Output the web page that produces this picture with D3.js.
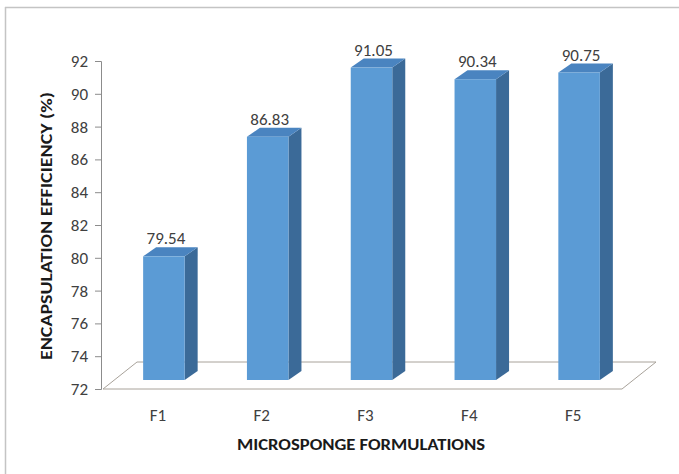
<!DOCTYPE html>
<html>
<head>
<meta charset="utf-8">
<script src="https://cdn.jsdelivr.net/npm/d3@7"></script>
<style>
  html, body { margin: 0; padding: 0; background: #fff; }
  svg { display: block; }
  text { font-family: Carlito, Calibri, Lato, "Liberation Sans", sans-serif; }
</style>
</head>
<body>
<svg id="chart" width="679" height="474"></svg>
<script>
// Encapsulation efficiency of the microsponge formulations
const categories = ["F1", "F2", "F3", "F4", "F5"];
const efficiency = [79.54, 86.83, 91.05, 90.34, 90.75];
const yTicks = [72, 74, 76, 78, 80, 82, 84, 86, 88, 90, 92];

const svg = d3.select("#chart");
const W = 679, H = 474;

// Pseudo-3D projection offsets (floor depth and column depth)
const floorDepth = { dx: 34, dy: -27 };
const barFront = { dx: 12, dy: -9 };
const barDepth = { dx: 13, dy: -9 };

const x = d3.scaleBand().domain(categories).range([103, 622]).padding(0);
const y = d3.scaleLinear().domain([72, 92]).range([389, 61]);

// Outer frame: top and left edges
svg.append("line").attr("x1", 5).attr("x2", W).attr("y1", 7.5).attr("y2", 7.5)
  .attr("stroke", "#c4c4c4").attr("stroke-width", 1.5);
svg.append("line").attr("x1", 5.5).attr("x2", 5.5).attr("y1", 7).attr("y2", H)
  .attr("stroke", "#c4c4c4").attr("stroke-width", 1.5);

// Floor of the plot area
const x0 = x.range()[0], x1 = x.range()[1], yf = y(72);
svg.append("path")
  .attr("d", d3.line()([
    [x0, yf], [x1, yf], [x1 + floorDepth.dx, yf + floorDepth.dy],
    [x0 + floorDepth.dx, yf + floorDepth.dy]
  ]) + "Z")
  .attr("fill", "#fff").attr("stroke", "#a8a29a").attr("stroke-width", 1);

// Value axis
const yAxis = d3.axisLeft(y).tickValues(yTicks).tickSize(6).tickPadding(7).tickFormat(d3.format("d"));
const gy = svg.append("g").attr("transform", "translate(101,0)").call(yAxis);
gy.select(".domain").attr("stroke", "#8c8c8c");
gy.selectAll(".tick line").attr("stroke", "#8c8c8c");
gy.selectAll(".tick text").attr("fill", "#404040").attr("font-size", 17);

// Columns with front, side and top faces
const bw = x.bandwidth() * 0.4;
const bars = svg.append("g").selectAll("g").data(categories).join("g");
bars.each(function (c, i) {
  const g = d3.select(this);
  const left = x(c) + x.bandwidth() / 2 - bw / 2 + barFront.dx - 3;
  const right = left + bw;
  const top = y(efficiency[i]) + barFront.dy;
  const bottom = y(72) + barFront.dy;
  // side face
  g.append("path").attr("d", d3.line()([
    [right, bottom], [right, top], [right + barDepth.dx, top + barDepth.dy],
    [right + barDepth.dx, bottom + barDepth.dy]
  ]) + "Z").attr("fill", "#3b6a98");
  // top face
  g.append("path").attr("d", d3.line()([
    [left, top], [right, top], [right + barDepth.dx, top + barDepth.dy],
    [left + barDepth.dx, top + barDepth.dy]
  ]) + "Z").attr("fill", "#4a84c0");
  // front face
  g.append("rect").attr("x", left).attr("y", top).attr("width", bw).attr("height", bottom - top)
    .attr("fill", "#5b9bd5");
  // value label
  g.append("text").attr("x", (left + right) / 2 + 2).attr("y", top - 12)
    .attr("text-anchor", "middle").attr("font-size", 17).attr("fill", "#404040")
    .text(efficiency[i].toFixed(2));
});

// Category labels
svg.append("g").selectAll("text").data(categories).join("text")
  .attr("x", d => x(d) + x.bandwidth() / 2 + 3)
  .attr("y", 421)
  .attr("text-anchor", "middle").attr("font-size", 17).attr("fill", "#404040")
  .text(d => d);

// Axis titles
svg.append("text").attr("x", 361).attr("y", 450).attr("text-anchor", "middle")
  .attr("font-size", 16.5).attr("font-weight", "bold").attr("fill", "#1a1a1a")
  .attr("textLength", 248).attr("lengthAdjust", "spacingAndGlyphs")
  .text("MICROSPONGE FORMULATIONS");
svg.append("text").attr("transform", "translate(52,226) rotate(-90)").attr("text-anchor", "middle")
  .attr("font-size", 16).attr("font-weight", "bold").attr("fill", "#1a1a1a")
  .attr("textLength", 268).attr("lengthAdjust", "spacingAndGlyphs")
  .text("ENCAPSULATION  EFFICIENCY (%)");
</script>
</body>
</html>
